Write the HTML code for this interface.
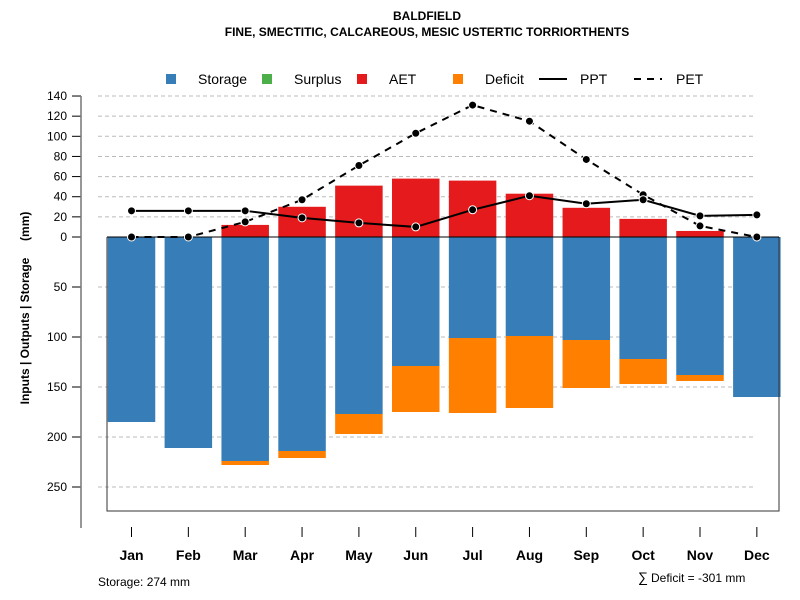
<!DOCTYPE html>
<html><head><meta charset="utf-8"><style>
body{margin:0;background:#fff}
svg{display:block;font-family:"Liberation Sans",sans-serif}
</style></head><body>
<svg id="chart" width="800" height="600">
<text x="427" y="20" text-anchor="middle" font-size="12" font-weight="bold">BALDFIELD</text>
<text x="427" y="36" text-anchor="middle" font-size="12" font-weight="bold">FINE, SMECTITIC, CALCAREOUS, MESIC USTERTIC TORRIORTHENTS</text>
<text transform="translate(29,308) rotate(-90)" text-anchor="middle" font-size="12" font-weight="bold" style="white-space:pre">Inputs | Outputs | Storage     (mm)</text>
<text x="98" y="586" font-size="12">Storage: 274 mm</text>
<text x="638" y="582" font-size="14">∑</text>
<text x="651" y="582" font-size="12">Deficit = -301 mm</text>
<g id="legend">
<rect x="166" y="74" width="10" height="10" fill="#377eb8"/>
<text x="198" y="84" font-size="14">Storage</text>
<rect x="262" y="74" width="10" height="10" fill="#4daf4a"/>
<text x="294" y="84" font-size="14">Surplus</text>
<rect x="357" y="74" width="10" height="10" fill="#e41a1c"/>
<text x="389" y="84" font-size="14">AET</text>
<rect x="453" y="74" width="10" height="10" fill="#ff7f00"/>
<text x="485" y="84" font-size="14">Deficit</text>
<line x1="539" y1="79" x2="567" y2="79" stroke="#000" stroke-width="2"/>
<text x="580" y="84" font-size="14">PPT</text>
<line x1="634" y1="79" x2="662" y2="79" stroke="#000" stroke-width="2" stroke-dasharray="7,6"/>
<text x="676" y="84" font-size="14">PET</text>
</g>
</svg>
<script>
const months=["Jan","Feb","Mar","Apr","May","Jun","Jul","Aug","Sep","Oct","Nov","Dec"];
const storage=[185,211,224,214,177,129,101,99,103,122,138,160];
const deficit=[0,0,4,7,20,46,75,72,48,25,6,0];
const aet=[0,0,12,30,51,58,56,43,29,18,6,0];
const ppt=[26,26,26,19,14,10,27,41,33,37,21,22];
const pet=[0,0,15,37,71,103,131,115,77,42,11,0];
const upTicks=[0,20,40,60,80,100,120,140];
const downTicks=[50,100,150,200,250];
const NS="http://www.w3.org/2000/svg";
const svg=document.getElementById('chart');
const legend=document.getElementById('legend');
const Y0=237, PX=1.007;
const yUp=v=>Y0-v*PX;
const yDn=v=>Y0+v;
const xC=i=>131.5+i*56.85;
const BW=47.5;
function mk(tag,attrs){const e=document.createElementNS(NS,tag);for(const k in attrs)e.setAttribute(k,attrs[k]);svg.insertBefore(e,legend);return e;}
upTicks.forEach(t=>{if(t>0){const g=mk('line',{x1:98,x2:756,y1:yUp(t),y2:yUp(t),stroke:'#bbb','stroke-dasharray':'4,3'});

}
const tk=mk('line',{x1:72,x2:81,y1:yUp(t),y2:yUp(t),stroke:'#000'});


const l=mk('text',{x:67,y:yUp(t)+4,'text-anchor':'end','font-size':12});l.textContent=t;

});
downTicks.forEach(t=>{const g=mk('line',{x1:98,x2:756,y1:yDn(t),y2:yDn(t),stroke:'#bbb','stroke-dasharray':'4,3'});


const tk=mk('line',{x1:72,x2:81,y1:yDn(t),y2:yDn(t),stroke:'#000'});


const l=mk('text',{x:67,y:yDn(t)+4,'text-anchor':'end','font-size':12});l.textContent=t;

});
const ax=mk('line',{x1:81,x2:81,y1:yUp(140),y2:528,stroke:'#777','stroke-width':1.5});


months.forEach((m,i)=>{
 const x=xC(i)-BW/2;
 const s=mk('rect',{x:x,y:Y0,width:BW,height:storage[i],fill:'#377eb8'});
 
 
 if(deficit[i]>0){const d=mk('rect',{x:x,y:yDn(storage[i]),width:BW,height:deficit[i],fill:'#ff7f00'});
 
 }
 if(aet[i]>0){const a=mk('rect',{x:x,y:yUp(aet[i]),width:BW,height:aet[i]*PX,fill:'#e41a1c'});
 
 }
 const tk=mk('line',{x1:xC(i),x2:xC(i),y1:527,y2:537,stroke:'#000'});
 
 
 const l=mk('text',{x:xC(i),y:560,'text-anchor':'middle','font-size':14,'font-weight':'bold'});l.textContent=m;
 
 
});
const box=mk('polyline',{points:`107,${Y0} 107,511 779,511 779,${Y0}`,fill:'none',stroke:'#333','stroke-width':1});


const zl=mk('line',{x1:107,x2:779,y1:Y0,y2:Y0,stroke:'#000'});


function series(vals,name,dash){
 const p=mk('polyline',{points:vals.map((v,i)=>xC(i)+','+yUp(v)).join(' '),fill:'none',stroke:'#000','stroke-width':2,'stroke-dasharray':dash});
 
 
 vals.forEach((v,i)=>{const c=mk('circle',{cx:xC(i),cy:yUp(v),r:4,fill:'#000',stroke:'#fff','stroke-width':1});
 
 });
}
series(pet,'pet','7,6');
series(ppt,'ppt','none');
</script>
</body></html>
